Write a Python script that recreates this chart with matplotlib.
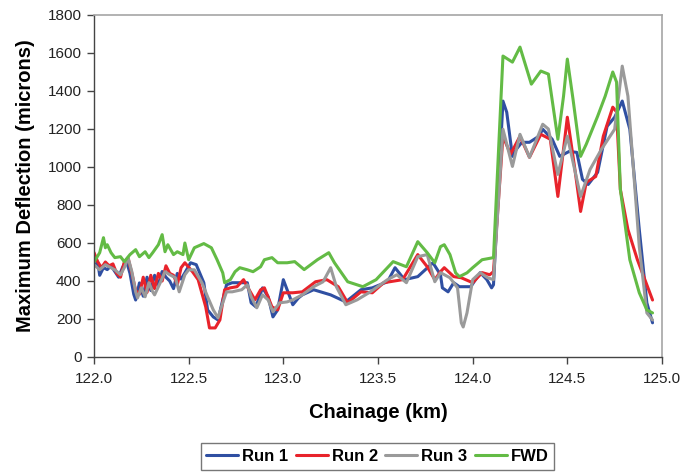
import matplotlib
matplotlib.use('Agg')
import matplotlib.pyplot as plt

plt.rcParams['font.family'] = ['Liberation Sans', 'DejaVu Sans']

# Run 1
run1_x = [122.00, 122.02, 122.03, 122.05, 122.07, 122.09, 122.11, 122.13, 122.15, 122.17,
          122.19, 122.21, 122.22, 122.24, 122.26, 122.28, 122.30, 122.32, 122.34, 122.36,
          122.38, 122.40, 122.42, 122.44, 122.46, 122.48, 122.51, 122.54, 122.58, 122.60,
          122.63, 122.655, 122.68, 122.70, 122.73, 122.78, 122.81, 122.83, 122.855, 122.89,
          122.92, 122.945, 122.97, 123.00, 123.02, 123.05, 123.08, 123.10, 123.16, 123.25,
          123.33, 123.41, 123.47, 123.55, 123.59, 123.64, 123.71, 123.79, 123.83, 123.84,
          123.87, 123.90, 123.93, 123.99, 124.04, 124.075, 124.10, 124.11, 124.16, 124.18,
          124.21, 124.23, 124.26, 124.30, 124.35, 124.37, 124.42, 124.46, 124.51, 124.55,
          124.58, 124.61, 124.66, 124.71, 124.75, 124.79, 124.83, 124.88, 124.92, 124.95]
run1_y = [480, 500, 430, 470, 460, 480, 450, 420, 470, 510,
          440, 330, 300, 390, 320, 420, 350, 430, 380, 450,
          420, 400, 360, 440, 410, 443, 496, 486, 391, 248,
          211, 195, 301, 380, 391, 391, 391, 285, 264, 364,
          317, 211, 248, 407, 354, 275, 311, 327, 354, 327,
          290, 354, 364, 396, 470, 407, 423, 496, 433, 364,
          343, 391, 370, 370, 444, 407, 364, 380, 1347, 1288,
          1056, 1093, 1130, 1130, 1162, 1199, 1146, 1056, 1082, 1077,
          935, 908, 972, 1214, 1262, 1347, 1199, 671, 285, 180]

# Run 2
run2_x = [122.00, 122.02, 122.04, 122.06, 122.08, 122.10, 122.12, 122.14, 122.16, 122.18,
          122.20, 122.22, 122.24, 122.26, 122.28, 122.30, 122.32, 122.34, 122.36, 122.38,
          122.40, 122.42, 122.44, 122.46, 122.48, 122.52, 122.55, 122.59, 122.61, 122.64,
          122.665, 122.69, 122.72, 122.755, 122.79, 122.81, 122.85, 122.88, 122.90, 122.94,
          122.97, 123.00, 123.05, 123.10, 123.17, 123.23, 123.29, 123.34, 123.41, 123.47,
          123.53, 123.63, 123.71, 123.76, 123.80, 123.83, 123.85, 123.90, 123.94, 124.00,
          124.05, 124.09, 124.11, 124.16, 124.20, 124.25, 124.30, 124.36, 124.41, 124.45,
          124.50, 124.54, 124.57, 124.60, 124.65, 124.69, 124.74, 124.76, 124.78, 124.82,
          124.87, 124.95]
run2_y = [550, 500, 470, 500, 480, 490, 440, 420, 500, 520,
          440, 350, 330, 420, 340, 430, 360, 440, 400, 480,
          440, 430, 380, 470, 496, 449, 407, 264, 153, 153,
          195, 354, 364, 370, 407, 370, 301, 354, 364, 264,
          248, 338, 338, 343, 396, 407, 370, 285, 343, 338,
          391, 407, 539, 475, 407, 449, 470, 423, 417, 391,
          444, 433, 449, 1162, 1067, 1162, 1051, 1172, 1146, 845,
          1262, 987, 766, 919, 950, 1162, 1315, 1290, 882, 671,
          512, 300]

# Run 3
run3_x = [122.00, 122.03, 122.06, 122.08, 122.11, 122.14, 122.16, 122.18, 122.20, 122.22,
          122.23, 122.25, 122.27, 122.29, 122.31, 122.32, 122.35, 122.375, 122.40, 122.43,
          122.45, 122.48, 122.50, 122.53, 122.57, 122.60, 122.63, 122.655, 122.68, 122.70,
          122.73, 122.78, 122.81, 122.83, 122.86, 122.89, 122.92, 122.945, 122.98, 123.02,
          123.05, 123.10, 123.16, 123.21, 123.25, 123.28, 123.33, 123.39, 123.46, 123.55,
          123.60, 123.65, 123.71, 123.76, 123.80, 123.83, 123.88, 123.92, 123.94, 123.95,
          123.97, 124.00, 124.04, 124.08, 124.11, 124.16, 124.21, 124.25, 124.30, 124.37,
          124.40, 124.45, 124.50, 124.57, 124.62, 124.68, 124.75, 124.79, 124.82, 124.88,
          124.92, 124.95]
run3_y = [486, 459, 486, 475, 459, 433, 470, 523, 449, 343,
          311, 364, 317, 391, 343, 327, 391, 449, 433, 417,
          343, 433, 459, 459, 391, 317, 248, 206, 285, 343,
          343, 354, 380, 317, 259, 327, 300, 238, 285, 290,
          301, 327, 370, 396, 470, 370, 275, 301, 343, 407,
          433, 391, 528, 539, 396, 444, 417, 364, 180, 158,
          232, 407, 444, 417, 407, 1199, 1003, 1172, 1051, 1225,
          1200, 961, 1162, 845, 987, 1093, 1199, 1531, 1373, 581,
          232, 195]

# FWD
fwd_x = [122.00, 122.03, 122.05, 122.06, 122.07, 122.09, 122.11, 122.14, 122.16, 122.19,
         122.22, 122.24, 122.27, 122.29, 122.31, 122.34, 122.36, 122.375, 122.39, 122.42,
         122.44, 122.47, 122.48, 122.50, 122.53, 122.58, 122.62, 122.65, 122.68, 122.69,
         122.72, 122.745, 122.77, 122.81, 122.84, 122.88, 122.90, 122.94, 122.97, 123.02,
         123.06, 123.11, 123.18, 123.24, 123.27, 123.34, 123.42, 123.49, 123.58, 123.65,
         123.71, 123.76, 123.80, 123.83, 123.85, 123.88, 123.91, 123.93, 123.97, 124.00,
         124.05, 124.11, 124.16, 124.21, 124.25, 124.31, 124.36, 124.40, 124.45, 124.48,
         124.50, 124.53, 124.57, 124.60, 124.66, 124.70, 124.74, 124.76, 124.78, 124.83,
         124.88, 124.92, 124.95]
fwd_y = [500, 549, 628, 575, 591, 549, 523, 528, 502, 539,
         565, 528, 554, 523, 549, 591, 644, 554, 591, 539,
         554, 539, 600, 512, 575, 597, 575, 512, 443, 391,
         407, 449, 470, 459, 449, 475, 512, 523, 496, 496,
         502, 460, 512, 549, 496, 396, 370, 407, 502, 475,
         607, 549, 496, 581, 591, 539, 443, 423, 443, 470,
         512, 523, 1584, 1552, 1631, 1436, 1505, 1489, 1146, 1373,
         1568, 1357, 1056, 1120, 1267, 1373, 1500, 1447, 882, 512,
         338, 248, 232]

series = [
    ('Run 1', run1_x, run1_y, '#2F4FA2'),
    ('Run 2', run2_x, run2_y, '#E8232B'),
    ('Run 3', run3_x, run3_y, '#9A9A9A'),
    ('FWD', fwd_x, fwd_y, '#63BB45'),
]

fig = plt.figure(figsize=(6.92, 4.72), dpi=100)
ax = fig.add_axes([94 / 692, 1 - 357 / 472, (662 - 94) / 692, (357 - 15) / 472])

for name, xs, ys, col in series:
    ax.plot(xs, ys, color=col, lw=2.2, label=name,
            solid_joinstyle='round', solid_capstyle='round')

ax.set_xlim(122.0, 125.0)
ax.set_ylim(0, 1800)
ax.set_xticks([122.0, 122.5, 123.0, 123.5, 124.0, 124.5, 125.0])
ax.set_xticklabels(['122.0', '122.5', '123.0', '123.5', '124.0', '124.5', '125.0'])
ax.set_yticks(range(0, 1801, 200))

for s in ['top', 'right']:
    ax.spines[s].set_color('#A6A6A6')
    ax.spines[s].set_linewidth(1.2)
for s in ['left', 'bottom']:
    ax.spines[s].set_color('#444444')
    ax.spines[s].set_linewidth(1.0)
ax.tick_params(direction='out', length=5, width=1.0, color='#444444',
               labelsize=11, labelcolor='#222222')
ax.tick_params(axis='y', pad=4)
ax.tick_params(axis='x', pad=6)

ax.set_ylabel('Maximum Deflection (microns)', fontsize=14.5, fontweight='bold', labelpad=9)
ax.set_xlabel('Chainage (km)', fontsize=14.5, fontweight='bold', labelpad=12)

leg = fig.legend(loc='upper center', bbox_to_anchor=(377.5 / 692, 1 - 443 / 472), ncol=4,
                 frameon=True, fancybox=False, edgecolor='#555555', fontsize=12,
                 handlelength=1.9, handletextpad=0.25, columnspacing=0.45,
                 borderpad=0.35, borderaxespad=0)
leg.get_frame().set_linewidth(1.0)
for t in leg.get_texts():
    t.set_fontweight('bold')

fig.savefig('out.png', dpi=100)
